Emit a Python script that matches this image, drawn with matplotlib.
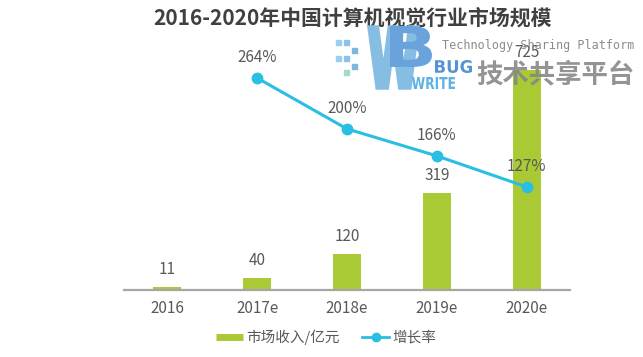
import matplotlib
matplotlib.use("Agg")
import matplotlib.pyplot as plt
from matplotlib.lines import Line2D
from matplotlib.textpath import TextPath
from matplotlib.patches import PathPatch, Rectangle
from matplotlib.font_manager import FontProperties
from matplotlib.transforms import Affine2D

plt.rcParams['font.family'] = ['Noto Sans CJK SC', 'DejaVu Sans']

# data
years = ["2016", "2017e", "2018e", "2019e", "2020e"]
revenue = [11, 40, 120, 319, 725]          # 市场收入/亿元
growth_years = ["2017e", "2018e", "2019e", "2020e"]
growth = [264, 200, 166, 127]              # 增长率 %

title = "2016-2020年中国计算机视觉行业市场规模"
bar_color = '#A9CA35'
line_color = '#29BFE2'
text_color = '#595959'

W, H = 643, 357
fig = plt.figure(figsize=(W / 100, H / 100), dpi=100)
fig.patch.set_facecolor('white')

# axes box in pixel terms: x 124..570, baseline at y=290, top at y=40
ax = fig.add_axes([124 / W, 67 / H, 446 / W, 250 / H])
ax2 = ax.twinx()

x = list(range(len(years)))
ax.bar(x, revenue, width=0.31, color=bar_color, zorder=2)
ax.set_xlim(-0.48, len(years) - 0.52)
ax.set_ylim(0, 824)

gx = [years.index(y) for y in growth_years]
ax2.plot(gx, growth, color=line_color, lw=2.2, marker='o', ms=7.5,
         zorder=3)
ax2.set_ylim(-2.5, 311.7)

for xi, v in zip(x, revenue):
    ax.annotate(str(v), (xi, v), xytext=(0, 12.5), textcoords='offset points',
                ha='center', va='center', fontsize=11, color=text_color)
for xi, v in zip(gx, growth):
    ax2.annotate(f"{v}%", (xi, v), xytext=(0, 15), textcoords='offset points',
                 ha='center', va='center', fontsize=11, color=text_color)

for a in (ax, ax2):
    for s in ('top', 'right', 'left'):
        a.spines[s].set_visible(False)
    a.set_yticks([])
ax2.spines['bottom'].set_visible(False)
ax.spines['bottom'].set_color('#A6A6A6')
ax.spines['bottom'].set_linewidth(1.6)
ax.set_xticks(x)
ax.set_xticklabels(years, fontsize=11, color=text_color)
ax.tick_params(axis='x', length=0, pad=7)

fig.text(353 / W, 1 - 18 / H, title, ha='center', va='center',
         fontsize=15, fontweight='bold', color='#404040')

handles = [
    Line2D([], [], color=bar_color, lw=5, solid_capstyle='butt'),
    Line2D([], [], color=line_color, lw=2, marker='o', ms=6),
]
fig.legend(handles, ["市场收入/亿元", "增长率"], loc='center',
           bbox_to_anchor=(326 / W, 20 / H), ncol=2, frameon=False,
           fontsize=10.5, labelcolor=text_color, handlelength=1.9,
           handletextpad=0.2, columnspacing=1.5)


# watermark overlay
def shape_text(s, box, color, weight='bold', lw=0):
    x0, y0, x1, y1 = box  # pixel box, y measured from top
    tp = TextPath((0, 0), s, size=1,
                  prop=FontProperties(family='DejaVu Sans', weight=weight))
    bb = tp.get_extents()
    tr = (Affine2D().translate(-bb.x0, -bb.y0)
          .scale((x1 - x0) / bb.width / W, (y1 - y0) / bb.height / H)
          .translate(x0 / W, 1 - y1 / H)) + fig.transFigure
    fig.patches.append(PathPatch(tp, transform=tr, facecolor=color,
                                 edgecolor=color, lw=lw, zorder=10))


# small pixel squares left of the logo
squares = [(336, 40), (344, 40), (352, 48), (336, 56), (344, 56),
           (352, 64), (344, 70)]
sq_colors = ['#9AD0EE', '#8CC2E6', '#7EB6E2', '#9AD0EE', '#8CC2E6',
             '#7EB6E2', '#9EDCCB']
for (sx, sy), c in zip(squares, sq_colors):
    fig.patches.append(Rectangle((sx / W, 1 - (sy + 5) / H), 5 / W, 5 / H,
                                 transform=fig.transFigure, color=c,
                                 zorder=10))

shape_text("W", (369, 27, 418, 88), '#86BDE3', lw=2.5)
shape_text("B", (390, 26, 432, 67), '#6AA3DB')
shape_text("BUG", (435, 60, 472, 73), '#5593D2')
shape_text("WRITE", (412, 77, 455, 89), '#5CB2E5')

fig.text(538 / W, 1 - 45 / H, "Technology Sharing Platform", ha='center',
         va='center', fontsize=8.5, family='DejaVu Sans Mono',
         color='#8C8C8C', zorder=10)
fig.text(555 / W, 1 - 75 / H, "技术共享平台", ha='center', va='center',
         fontsize=19, fontweight='bold', color='#888888', alpha=0.9,
         zorder=10)

fig.savefig("out.png", dpi=100, facecolor='white')
